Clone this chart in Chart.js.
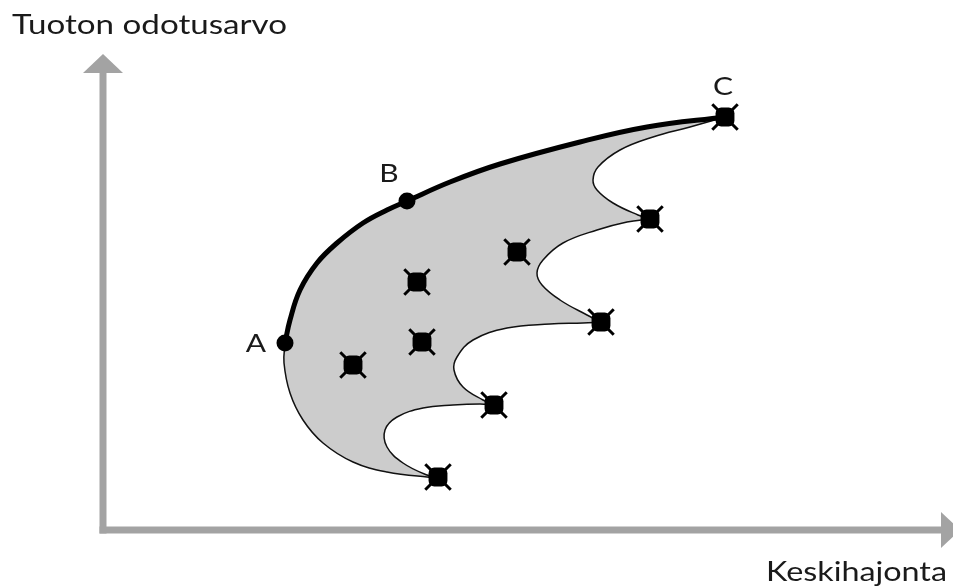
<!DOCTYPE html>
<html>
<head>
<meta charset="utf-8">
<script src="https://cdn.jsdelivr.net/npm/chart.js@4.4.0/dist/chart.umd.min.js"></script>
<style>
  body { margin: 0; background: #fff; }
  #wrap { width: 953px; height: 587px; position: relative; }
</style>
</head>
<body>
<div id="wrap"><canvas id="chart"></canvas></div>
<script>
// x = keskihajonta, y = tuoton odotusarvo, axis corner = (0, 0)
const frontier = [[182,187],[187,210],[197,240],[214,267],[234,287],[260,307],[284,320],[304,329],[347,348],[397,366],[477,388],[544,403],[622,413]];
const lowerEdge = [[182,187],[181,167],[187,137],[200,110],[220,87],[250,68],[284,58],[324,53],[335,53]];
const scallop1 = [[335,53],[324,55],[300,67],[284,83],[282,100],[294,113],[320,122],[350,125],[377,126],[391,125]];
const scallop2 = [[391,125],[380,130],[360,143],[351,160],[354,173],[370,190],[404,202],[447,206],[480,207],[498,208]];
const scallop3 = [[498,208],[484,215],[457,230],[439,245],[434,257],[440,270],[460,287],[494,300],[524,308],[547,311]];
const scallop4 = [[547,311],[535,315],[510,327],[494,340],[490,350],[495,363],[517,380],[550,393],[587,403],[622,413]];
const assets = [[622,413],[547,311],[498,208],[391,125],[335,53],[414,278],[314,248],[319,188],[250,165]];
const portfolios = [[182,187],[304,329]];
const pointLabels = ['A', 'B', 'C'];
const labelPoints = [[182,187],[304,329],[622,413]];
const yTitle = 'Tuoton odotusarvo';
const xTitle = 'Keskihajonta';

const toXY = arr => arr.map(p => ({x: p[0], y: p[1]}));

const outline = [...frontier].reverse().concat(lowerEdge, scallop1, scallop2, scallop3, scallop4);

const AXIS = '#a3a3a3';
const FONT = 'Lato, "Open Sans", sans-serif';

const stretchText = (ctx, text, x, y, sx) => {
    ctx.save();
    ctx.translate(x, y);
    ctx.scale(sx, 1);
    ctx.textAlign = 'center';
    ctx.fillText(text, 0, 0);
    ctx.restore();
};

const fitText = (ctx, text, left, y, width) => {
    const w = ctx.measureText(text).width;
    ctx.save();
    ctx.translate(left, y);
    ctx.scale(width / w, 1);
    ctx.textAlign = 'left';
    ctx.fillText(text, 0, 0);
    ctx.restore();
};

const axesPlugin = {
    id: 'axesArrows',
    beforeDatasetsDraw(chart) {
        const ctx = chart.ctx;
        const x0 = chart.scales.x.getPixelForValue(0);
        const y0 = chart.scales.y.getPixelForValue(0);
        ctx.save();
        ctx.fillStyle = AXIS;
        // pystyakseli
        ctx.fillRect(x0 - 3.5, 72, 7, y0 + 3.5 - 72);
        ctx.beginPath();
        ctx.moveTo(x0 - 20, 73);
        ctx.lineTo(x0, 54);
        ctx.lineTo(x0 + 20, 73);
        ctx.closePath();
        ctx.fill();
        // vaaka-akseli
        ctx.fillRect(x0 - 3.5, y0 - 3.5, 943 - (x0 - 3.5), 7);
        ctx.beginPath();
        ctx.moveTo(941, y0 - 18);
        ctx.lineTo(960, y0);
        ctx.lineTo(941, y0 + 18);
        ctx.closePath();
        ctx.fill();
        ctx.restore();
    },
    afterDraw(chart) {
        const ctx = chart.ctx;
        const sx = chart.scales.x, sy = chart.scales.y;
        ctx.save();
        ctx.fillStyle = '#1a1a1a';
        ctx.textBaseline = 'alphabetic';
        ctx.font = '26px ' + FONT;
        fitText(ctx, yTitle, 12, 34, 275);
        fitText(ctx, xTitle, 766, 581, 181);
        const offsets = [[-29, 9], [-18, -19], [-2, -22]];
        ctx.font = '25px ' + FONT;
        pointLabels.forEach((t, i) => {
            const px = sx.getPixelForValue(labelPoints[i][0]) + offsets[i][0];
            const py = sy.getPixelForValue(labelPoints[i][1]) + offsets[i][1];
            stretchText(ctx, t, px, py, 1.2);
        });
        ctx.restore();
    }
};

const createChart = (ctx) => {
    new Chart(ctx, {
        type: 'scatter',
        data: {
            datasets: [{
                data: toXY(assets),
                pointStyle: 'rectRounded',
                pointRadius: 11,
                backgroundColor: '#000',
                borderWidth: 0,
            }, {
                data: toXY(assets),
                pointStyle: 'crossRot',
                pointRadius: 18,
                borderColor: '#000',
                borderWidth: 3,
            }, {
                data: toXY(portfolios),
                pointStyle: 'circle',
                pointRadius: 8.5,
                backgroundColor: '#000',
                borderWidth: 0,
            }, {
                data: toXY(frontier),
                showLine: true,
                tension: 0.4,
                borderColor: '#000',
                borderWidth: 5,
                pointRadius: 0,
                fill: false,
            }, {
                data: toXY(outline),
                showLine: true,
                tension: 0.4,
                borderColor: '#111',
                borderWidth: 1.5,
                backgroundColor: '#cccccc',
                pointRadius: 0,
                fill: 'shape',
            }]
        },
        options: {
            responsive: true,
            maintainAspectRatio: false,
            animation: false,
            layout: { padding: 0, autoPadding: false },
            scales: {
                x: { type: 'linear', min: -103, max: 850, display: false },
                y: { type: 'linear', min: -57, max: 530, display: false }
            },
            plugins: {
                legend: { display: false },
                tooltip: { enabled: false }
            }
        },
        plugins: [axesPlugin]
    });
};

window.onload = () => {
    createChart(document.getElementById('chart').getContext('2d'));
};
</script>
</body>
</html>
